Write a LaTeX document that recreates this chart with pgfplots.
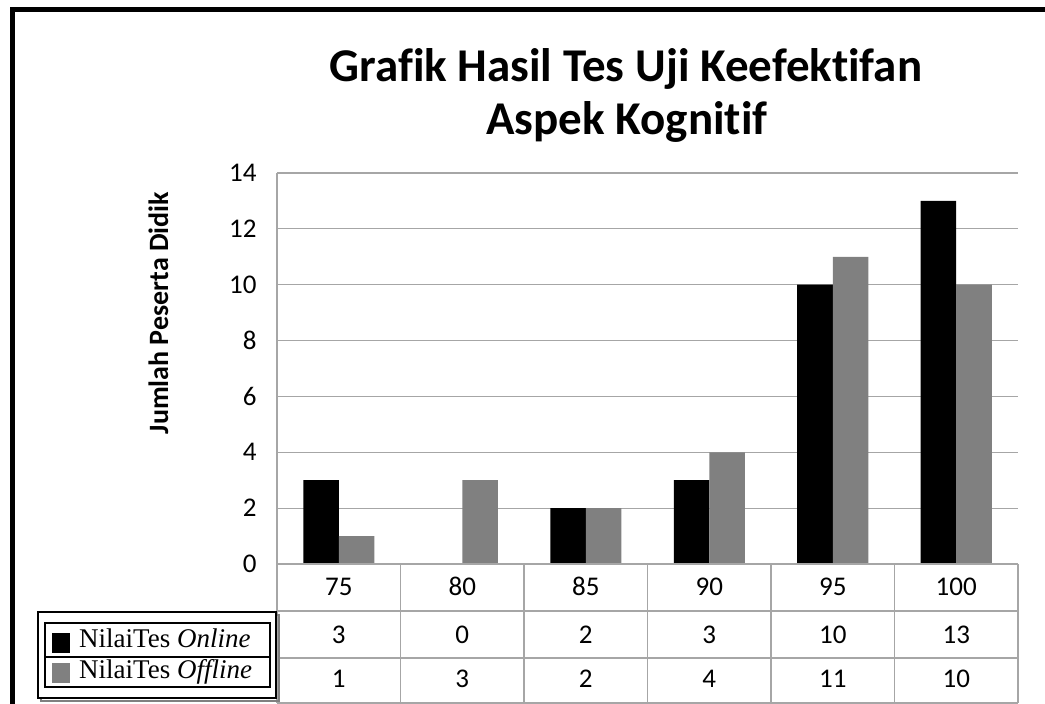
\documentclass[border=0pt]{standalone}
\usepackage{pgfplots}
\pgfplotsset{compat=1.18}
\usepackage{fontspec}
\setmainfont[Ligatures=NoCommon]{Carlito}
\newfontfamily\timesfont{Liberation Serif}
\definecolor{gridgray}{HTML}{A6A6A6}
\definecolor{bargray}{HTML}{808080}
\begin{document}
\begin{tikzpicture}[x=1pt,y=1pt]
\useasboundingbox[fill=white] (0,0) rectangle (1045,704);
% outer frame (cropped)
\draw[line width=4.5pt] (12.5,0) -- (12.5,694.5) -- (1045,694.5);
% title
\node[anchor=base,font=\fontsize{47}{56}\selectfont\bfseries] at (626,622) {Grafik Hasil Tes Uji Keefektifan};
\node[anchor=base,font=\fontsize{47}{56}\selectfont\bfseries] at (627,569) {Aspek Kognitif};
% y label
\node[rotate=90,font=\fontsize{28}{33}\selectfont\bfseries] at (158.5,391) {Jumlah Peserta Didik};
\begin{axis}[
  at={(277pt,140pt)}, anchor=south west,
  scale only axis, width=741pt, height=391pt,
  ybar=0pt, bar width=35.5pt,
  xmin=-0.5, xmax=5.5, ymin=0, ymax=14,
  ytick={0,2,...,14}, xtick=\empty,
  ymajorgrids, grid style={gridgray, line width=1.2pt},
  axis x line=none,
  axis y line*=left,
  y axis line style={gridgray, line width=1.2pt, -},
  major tick length=0pt,
  /pgf/number format/assume math mode=true,
  yticklabel style={font=\fontsize{27}{32}\selectfont, xshift=-17pt},
  clip=false,
]
\addplot[fill=black, draw=none] coordinates {(0,3) (1,0) (2,2) (3,3) (4,10) (5,13)};
\addplot[fill=bargray, draw=none] coordinates {(0,1) (1,3) (2,2) (3,4) (4,11) (5,10)};
\end{axis}
% data table
\begin{scope}[gridgray, line width=1.2pt]
\foreach \yy in {140,93,46,1} \draw (277,\yy) -- (1018,\yy);
\foreach \xx in {277,400.5,524,647.5,771,894.5,1018} \draw (\xx,140) -- (\xx,1);
\end{scope}
\begin{scope}[font=\fontsize{27}{32}\selectfont, anchor=base, inner sep=0pt]
\foreach \v [count=\i from 0] in {75,80,85,90,95,100} \node at (338.75+123.5*\i,108.5) {\v};
\foreach \v [count=\i from 0] in {3,0,2,3,10,13} \node at (338.75+123.5*\i,60.5) {\v};
\foreach \v [count=\i from 0] in {1,3,2,4,11,10} \node at (338.75+123.5*\i,16.5) {\v};
\end{scope}
% legend
\draw[line width=1.5pt, gray] (41,3) rectangle (279,89);
\draw[line width=1.5pt, fill=white] (38,6) rectangle (276,92);
\draw[line width=1.5pt] (45,17) rectangle (270,81);
\draw[line width=1.5pt] (45,47) -- (270,47);
\fill[black] (52,51) rectangle (70,71);
\fill[bargray] (52,21) rectangle (70,41);
\node[anchor=base west, inner sep=0pt, font=\timesfont\fontsize{27}{31}\selectfont] at (79,56) {NilaiTes \textit{Online}};
\node[anchor=base west, inner sep=0pt, font=\timesfont\fontsize{27}{31}\selectfont] at (79,25) {NilaiTes \textit{Offline}};
\end{tikzpicture}
\end{document}
